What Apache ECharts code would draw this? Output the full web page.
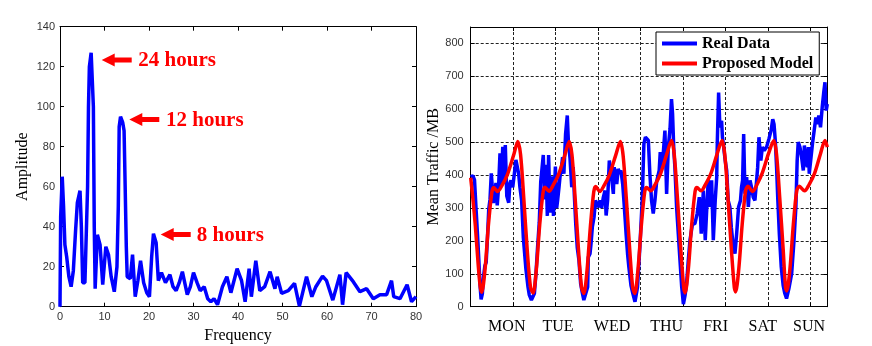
<!DOCTYPE html>
<html>
<head>
<meta charset="utf-8">
<title>Spectrum and weekly traffic</title>
<script src="https://cdn.jsdelivr.net/npm/echarts@6/dist/echarts.min.js"></script>
<style>
html, body { margin: 0; padding: 0; background: #fff; }
#main { width: 872px; height: 346px; }
</style>
</head>
<body>
<div id="main"></div>
<script>
// left: amplitude spectrum
const specFreq = [0, 0.15, 0.5, 0.8, 1.1, 1.5, 2, 2.5, 3, 3.5, 3.9, 4.5, 4.8, 5.1, 5.6, 5.9, 6.2, 6.4, 6.6, 7.0, 7.3, 7.5, 7.7, 7.9,
  8.4, 9, 9.6, 10.3, 10.9, 11.5, 12.2, 12.8, 13.1, 13.3, 13.6, 14.1, 14.4, 14.6, 14.9, 15.1, 15.8, 16.3, 16.9, 17.5, 18.1, 18.8, 19.5,
  20.1, 20.6, 21, 21.6, 22.1, 22.8, 23.7, 24.7, 25.4, 26.1, 26.8, 27.5, 28.6, 29.3, 30, 30.8, 31.5, 32.4, 33.2, 33.9, 34.6,
  35.4, 36.5, 37.5, 38.4, 39.8, 40.8, 41.6, 42.5, 43, 44, 44.9, 46, 47.2, 48.3, 48.8, 49.8, 51.3, 52.7, 53.8, 55.4, 56.6,
  57.5, 59, 59.9, 61.3, 62.9, 63.5, 64.3, 65.9, 67.4, 68.9, 70.4, 71.9, 73.4, 74.5, 75, 76.4, 78, 79, 80]
const specAmp = [0, 45, 65, 50, 31, 25, 15, 10, 18, 38, 52, 58, 40, 12, 12, 13, 60, 100, 120, 127, 126, 100, 40, 9,
  36, 31, 11, 30, 26, 15, 7.5, 20, 50, 90, 95, 92, 88, 65, 30, 15, 14, 26, 5, 13, 23, 12, 7,
  5, 25, 36.5, 32, 13, 17, 12, 16, 10, 8, 12, 17.5, 6, 10, 17, 12, 8, 10, 4, 2.5, 4,
  1, 10, 15, 7, 19, 13, 2.5, 19, 5, 23, 8, 10, 17.5, 9, 15, 6.7, 8, 11.7, 0.3, 15, 5,
  10, 15.3, 13, 3.3, 16, 1, 17, 12.5, 7.5, 9, 4, 6, 6, 13, 5, 4, 11, 2.5, 5]
const peakLabels = ['24 hours', '12 hours', '8 hours']

// right: one week of traffic (hours from Monday 00:00)
const realHours = [0, 1, 1.8, 2.5, 3.2, 3.8, 4.4, 4.9, 5.5, 6.1, 6.7, 7.3, 7.9, 8.5, 9.1, 9.7, 10.2, 10.7, 11.3, 11.9, 12.5,
  13.1, 13.8, 14.4, 15.1, 15.6, 16.3, 17, 17.9, 18.5, 19, 19.8, 20.6, 21.3, 22.1, 22.6, 23.2, 24, 24.8, 26, 27, 27.6, 28.6,
  29.2, 30, 30.8, 31.5, 32.3, 33, 33.6, 34.2, 34.9, 35.5, 36.1, 36.7, 37.4, 38.3, 39, 39.9, 40.5, 41, 41.6, 42.1, 42.6,
  43.3, 43.9, 44.7, 45.5, 46, 46.8, 47.6, 48.3, 48.8, 49.5, 50.2, 51, 51.8, 52.5, 53.3,
  54.2, 55.1, 55.4, 56.2, 56.7, 57.3, 58.1, 58.8, 59.5, 60.1, 60.9, 61.7, 62.5, 63.3, 63.8, 64.5, 65.3, 65.8, 66.4, 67.2,
  67.6, 68, 68.8, 69.5, 70.2, 70.8, 71.6, 72.2, 72.7, 73.2, 73.9, 74.5, 75.5, 76.4, 77.4,
  78.6, 79.7, 80.8, 81.6, 82.3, 82.9, 83.7, 84.4, 85.2, 86, 86.8, 87.6, 88.4, 88.8, 89.3, 90.1, 90.7, 91.5, 92, 92.3,
  93.1, 93.9, 94.6, 95.1, 95.7, 96.2, 97, 97.8, 98.6, 99.4, 100.2,
  101, 101.7, 102.5, 103.3, 104.5, 105.6, 106.7, 107.7, 108.3, 108.6, 109.6, 110.5, 111.4, 111.9, 112.4, 112.7, 113.3,
  113.5, 114.3, 115.2, 115.9, 116.2, 116.8, 117.4, 118.2, 118.6, 119, 119.9, 120.6, 121.3, 122.1, 122.8, 123.4, 124.5,
  125.3, 126.2, 127.1, 127.6, 128.1, 128.6, 129.2, 130, 130.8, 131.6, 132.3, 133.1, 133.9, 134.7, 135.2, 135.8, 136.7,
  137.4, 138.3, 139.4, 140.5, 141.5, 142.3, 142.9, 143.5, 144.1, 144.7, 145.4, 146.3, 147.2, 148, 148.8,
  149.9, 151.2, 152.3, 153.2, 153.8, 154.3, 155.1, 155.9, 156.7, 157.2, 158, 158.6, 159.1, 159.5, 160.3, 161.1, 161.8,
  162.6, 163.3, 164, 164.8, 165.6, 166.3, 166.9, 167.5, 168]
const realTraffic = [395, 398, 385, 300, 220, 146, 66, 22, 40, 95, 125, 135, 210, 296, 326, 405, 360, 315, 343, 376, 308,
  360, 466, 366, 486, 380, 491, 336, 316, 376, 384, 363, 406, 446, 440, 404, 363, 323, 210, 115, 60, 36, 20,
  15, 40, 106, 180, 256, 380, 420, 461, 326, 431, 276, 461, 286, 396, 276, 426, 300, 326, 363, 396, 414,
  454, 404, 525, 581, 505, 450, 363, 424, 343, 250, 180, 141, 70, 45, 20,
  40, 60, 150, 161, 192, 242, 272, 323, 310, 303, 323, 300, 333, 353, 277, 323, 444, 420, 394, 343,
  424, 409, 373, 419, 404, 414, 373, 320, 272, 222, 161, 121, 65, 40, 15,
  60, 182, 323, 495, 515, 520, 505, 404, 323, 283, 323, 380, 374, 414, 470, 424, 464, 535, 414, 343,
  485, 540, 631, 586, 474, 424, 303, 222, 141, 61, 8,
  35, 70, 140, 202, 252, 252, 283, 333, 270, 222, 353, 202, 323, 384, 363, 303, 303,
  384, 202, 323, 394, 505, 651, 545, 565, 515, 495, 444, 414, 323, 303, 240, 202, 161,
  222, 303, 323, 364, 384, 525, 343, 394, 303, 384, 363, 333, 323, 384, 424, 515, 444,
  485, 475, 485, 510, 535, 570, 555, 505, 424, 323, 222, 121, 65, 40, 25,
  55, 100, 200, 303, 444, 500, 485, 454, 414, 490, 440, 424, 485, 404, 404, 500, 535,
  575, 555, 581, 545, 606, 650, 682, 596, 616]
const modelHours = [0, 1, 2.2, 3.5, 4.5, 5.2, 6.7, 8.3, 9.9, 10.8, 12.7, 14.7, 17.2, 20.2, 22.2, 23.5, 25, 26.6, 28.2, 29.4,
  30.9, 32.5, 34.1, 35, 36.9, 38.9, 41.4, 44.4, 46.4, 47.7, 49.2, 50.8, 52.2, 53.3,
  54.8, 56.4, 58, 58.9, 60.8, 62.8, 65.3, 68.3, 70.5, 71.8, 73.3, 74.9, 76.3, 77.3,
  78.8, 80.4, 82, 82.9, 84.8, 86.8, 89.3, 92.3, 94.6, 95.9, 97.4, 99, 100.4, 101,
  102.5, 104.1, 105.7, 106.6, 108.5, 110.5, 113, 116, 118.4, 119.7, 121.2, 122.8, 124.2, 124.8,
  126.3, 127.9, 129.5, 130.6, 132.8, 134.8, 137.3, 140.3, 142.8, 144.1, 145.6, 147.2, 148.3, 148.9,
  150.4, 152, 153.6, 154.8, 157.3, 159.5, 162, 164.8, 166.9, 168]
const modelTraffic = [392, 330, 245, 130, 60, 44, 110, 245, 345, 362, 350, 368, 400, 460, 502, 462, 330, 175, 58, 42,
  112, 248, 348, 363, 351, 370, 402, 462, 502, 462, 330, 172, 60, 40,
  110, 245, 350, 365, 350, 368, 400, 460, 502, 460, 330, 175, 60, 40,
  112, 247, 350, 362, 352, 370, 402, 462, 505, 462, 330, 172, 55, 42,
  112, 248, 350, 362, 352, 370, 402, 462, 505, 462, 330, 175, 58, 45,
  115, 250, 352, 366, 350, 370, 405, 465, 505, 462, 330, 175, 60, 48,
  115, 250, 352, 366, 352, 372, 405, 465, 505, 485]
const dayNames = ['MON', 'TUE', 'WED', 'THU', 'FRI', 'SAT', 'SUN']
const dayLabelPos = [17, 41.1, 66.6, 92.3, 115.4, 137.6, 159.4]

const zip = (xs, ys) => xs.map((x, i) => [x, ys[i]])

const serif = 'Liberation Serif'
const sans = 'Liberation Sans'
const blue = '#0000ff'
const red = '#ff0000'

function frameAxis(extra) {
  // plain black axis line with inward ticks, MATLAB style
  return Object.assign({
    type: 'value',
    axisLine: { show: true, onZero: false, lineStyle: { color: '#000', width: 1 } },
    axisTick: { show: true, inside: true, length: 4, lineStyle: { color: '#000' } },
    axisLabel: { show: false },
    splitLine: { show: false }
  }, extra)
}

const tickText = { color: '#333', fontFamily: sans, fontSize: 11 }
const dash = { show: true, lineStyle: { color: '#222', type: [3, 2], width: 1 } }

function arrow(x, y) {
  return {
    type: 'polygon',
    shape: { points: [[x, y], [x + 13, y - 6.5], [x + 13, y - 2.5], [x + 30, y - 2.5], [x + 30, y + 2.5], [x + 13, y + 2.5], [x + 13, y + 6.5]] },
    style: { fill: red }
  }
}
function peakText(i, x, y) {
  return {
    type: 'text',
    style: { text: peakLabels[i], x: x, y: y, fill: red, font: 'bold 21px "' + serif + '"', verticalAlign: 'middle' }
  }
}

const chart = echarts.init(document.getElementById('main'))
chart.setOption({
  animation: false,
  backgroundColor: '#fff',
  grid: [
    { left: 60, right: 456, top: 26.7, bottom: 39.3, outerBoundsMode: 'none' },
    { left: 470.7, right: 44.7, top: 27, bottom: 39.3, outerBoundsMode: 'none' }
  ],
  xAxis: [
    frameAxis({
      gridIndex: 0, position: 'bottom', min: 0, max: 80, interval: 10,
      axisLabel: Object.assign({ show: true, margin: 5 }, tickText),
      name: 'Frequency', nameLocation: 'middle', nameGap: 17,
      nameTextStyle: { fontFamily: serif, fontSize: 16, color: '#000' }
    }),
    frameAxis({ gridIndex: 0, position: 'top', min: 0, max: 80, interval: 10 }),
    frameAxis({ gridIndex: 1, position: 'bottom', min: 0, max: 168, interval: 20, splitLine: dash }),
    frameAxis({ gridIndex: 1, position: 'top', min: 0, max: 168, interval: 20 }),
    {
      type: 'value', gridIndex: 1, position: 'bottom', min: 0, max: 168,
      axisLine: { show: false }, axisTick: { show: false }, splitLine: { show: false },
      axisLabel: {
        show: true, margin: 12, customValues: dayLabelPos,
        formatter: v => dayNames[dayLabelPos.indexOf(v)] || '',
        fontFamily: serif, fontSize: 16, color: '#000'
      }
    }
  ],
  yAxis: [
    frameAxis({
      gridIndex: 0, position: 'left', min: 0, max: 140, interval: 20,
      axisLabel: Object.assign({ show: true, margin: 5 }, tickText),
      name: 'Amplitude', nameLocation: 'middle', nameGap: 29,
      nameTextStyle: { fontFamily: serif, fontSize: 16, color: '#000' }
    }),
    frameAxis({ gridIndex: 0, position: 'right', min: 0, max: 140, interval: 20 }),
    frameAxis({
      gridIndex: 1, position: 'left', min: 0, max: 850, interval: 100, splitLine: dash,
      axisLabel: Object.assign({ show: true, margin: 7, formatter: v => (v % 100 === 0 ? v : '') }, tickText),
      name: 'Mean Traffic /MB', nameLocation: 'middle', nameGap: 29,
      nameTextStyle: { fontFamily: serif, fontSize: 16, color: '#000' }
    }),
    frameAxis({ gridIndex: 1, position: 'right', min: 0, max: 850, interval: 100 })
  ],
  legend: {
    data: [{ name: 'Real Data', icon: 'rect' }, { name: 'Proposed Model', icon: 'rect' }],
    orient: 'vertical', left: 656, top: 32,
    padding: [3, 6, 3, 6], itemWidth: 35, itemHeight: 4, itemGap: 3,
    backgroundColor: '#fff', borderColor: '#000', borderWidth: 1, borderRadius: 0,
    textStyle: { fontFamily: serif, fontWeight: 'bold', fontSize: 16, lineHeight: 17, color: '#000' }
  },
  series: [
    {
      name: 'Spectrum', type: 'line', xAxisIndex: 0, yAxisIndex: 0,
      data: zip(specFreq, specAmp), showSymbol: false, symbol: 'none',
      lineStyle: { color: blue, width: 3.5 }
    },
    {
      name: 'Real Data', type: 'line', xAxisIndex: 2, yAxisIndex: 2,
      data: zip(realHours, realTraffic), symbol: 'none',
      itemStyle: { color: blue }, lineStyle: { color: blue, width: 3.5 }
    },
    {
      name: 'Proposed Model', type: 'line', xAxisIndex: 2, yAxisIndex: 2,
      data: zip(modelHours, modelTraffic), symbol: 'none', smooth: 0.3,
      itemStyle: { color: red }, lineStyle: { color: red, width: 3.5 }
    }
  ],
  graphic: [
    arrow(101.7, 60), peakText(0, 138.3, 61),
    arrow(129.3, 119.5), peakText(1, 166, 121),
    arrow(160.7, 234.5), peakText(2, 196.7, 236)
  ]
})
window.addEventListener('resize', () => chart.resize())
</script>
</body>
</html>
